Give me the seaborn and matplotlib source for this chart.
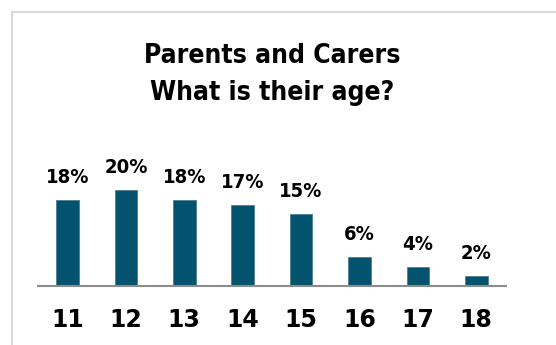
import matplotlib
matplotlib.use("Agg")
import matplotlib.pyplot as plt
from matplotlib.lines import Line2D
import seaborn as sns
import pandas as pd

ages = ["11", "12", "13", "14", "15", "16", "17", "18"]
shares = [18, 20, 18, 17, 15, 6, 4, 2]
value_labels = ["18%", "20%", "18%", "17%", "15%", "6%", "4%", "2%"]
title_lines = ["Parents and Carers", "What is their age?"]

sns.set_theme(style="white")
plt.rcParams["font.family"] = ["DejaVu Sans"]

W, H = 556, 345
fig = plt.figure(figsize=(W / 100, H / 100), dpi=100)
fig.patch.set_facecolor("white")

# light frame around the panel (top and left edges)
frame = "#d9d9d9"
fig.add_artist(Line2D([12 / W, 1], [1 - 12 / H, 1 - 12 / H], color=frame, lw=1.5))
fig.add_artist(Line2D([12 / W, 12 / W], [0, 1 - 12 / H], color=frame, lw=1.5))

ax_left, ax_right = 38.3, 505.5
base_px, ymax = 286, 25
px_per_unit = 4.78
ax = fig.add_axes([ax_left / W, (H - base_px) / H,
                   (ax_right - ax_left) / W, ymax * px_per_unit / H])

df = pd.DataFrame({"age": ages, "share": shares})
sns.barplot(data=df, x="age", y="share", color="#03526e", saturation=1,
            width=0.39, ax=ax, edgecolor="#4d7f93", linewidth=0.6)

ax.set_xlim(-0.5, len(ages) - 0.5)
ax.set_ylim(0, ymax)
for s in ["top", "right", "left"]:
    ax.spines[s].set_visible(False)
ax.spines["bottom"].set_color("#8c8c8c")
ax.spines["bottom"].set_linewidth(1.5)
ax.set_yticks([])
ax.set_xlabel("")
ax.set_ylabel("")
ax.tick_params(axis="x", length=0, pad=16, labelsize=17)
for t in ax.get_xticklabels():
    t.set_fontweight("bold")
    t.set_color("black")

for i, (v, lab) in enumerate(zip(shares, value_labels)):
    ax.annotate(lab, (i, v), xytext=(0, 12.2), textcoords="offset points",
                ha="center", va="baseline", fontsize=14.5, fontweight="bold",
                fontstretch="condensed", color="black")

cx = (ax_left + ax_right) / 2 / W
for line, y_px in zip(title_lines, [63, 100]):
    fig.text(cx, 1 - y_px / H, line, ha="center", va="baseline",
             fontsize=19, fontweight="bold", fontstretch="condensed",
             color="black")

fig.savefig("out.png", dpi=100, facecolor="white")
